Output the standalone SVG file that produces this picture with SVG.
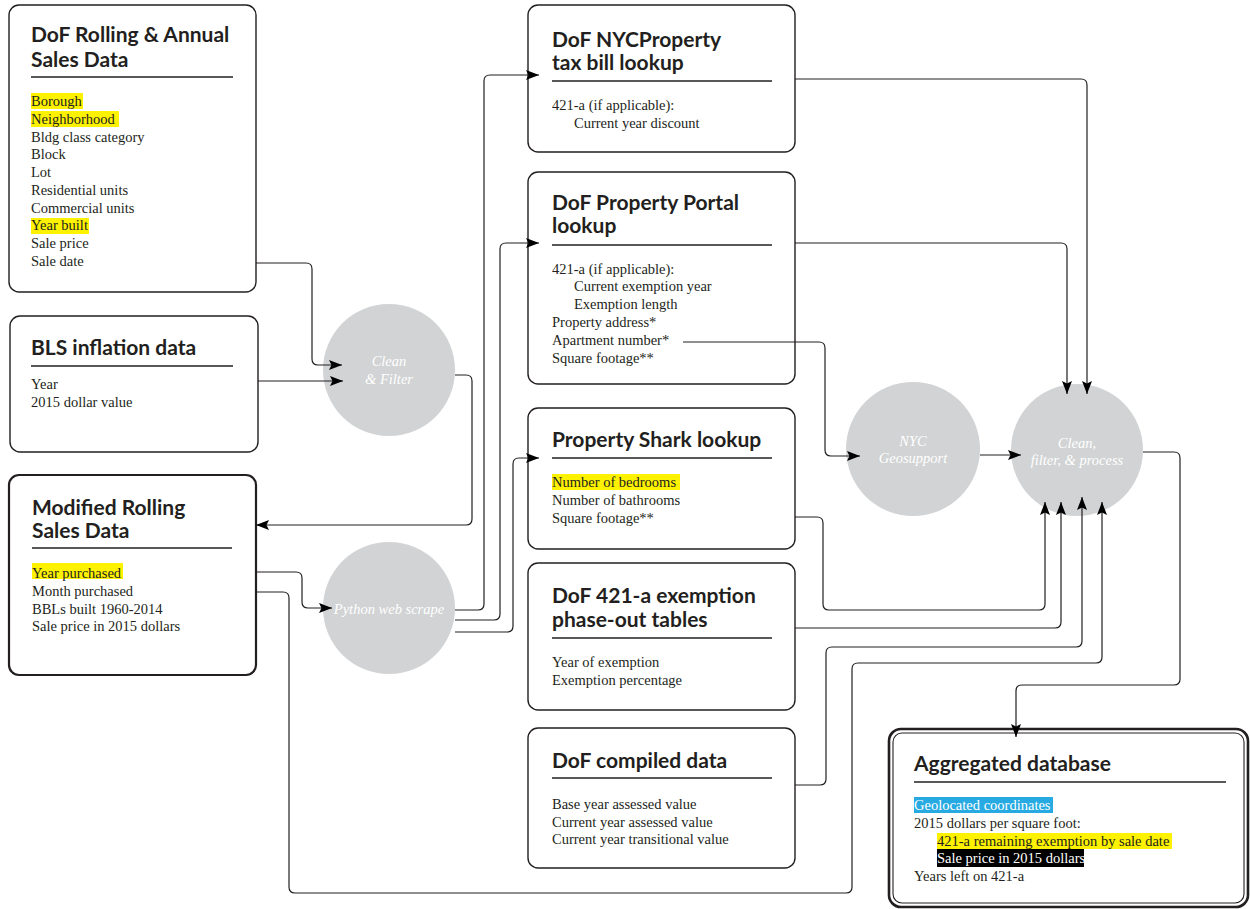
<svg xmlns="http://www.w3.org/2000/svg" width="1250" height="909" viewBox="0 0 1250 909">
<defs>
<style>
.box{fill:#fff;stroke:#231F20;stroke-width:1.4}
.title{font-family:Lato,"Liberation Sans",sans-serif;font-weight:700;font-size:21px;fill:#231F20}
.body{font-family:"Liberation Serif",serif;font-size:14.5px;fill:#231F20}
.rule{stroke:#231F20;stroke-width:1.5}
.circ{fill:#D1D3D4}
.ctext{font-family:"Liberation Serif",serif;font-style:italic;font-size:14.5px;fill:#fff;text-anchor:middle}
.hl{fill:#FFF200}
.conn path{fill:none;stroke:#231F20;stroke-width:1.2}
.conn .a{marker-end:url(#arr)}
</style>
<marker id="arr" markerUnits="userSpaceOnUse" markerWidth="13" markerHeight="10" refX="13" refY="5" orient="auto">
<path d="M0,0 L13,5 L0,10 L2.5,5 z" fill="#000"/>
</marker>
</defs>
<rect width="1250" height="909" fill="#fff"/>

<g id="node-dof-rolling">
<rect class="box" x="9" y="5" width="247" height="287" rx="10"/>
<text class="title" x="31" y="42">DoF Rolling &amp; Annual</text>
<text class="title" x="31" y="67">Sales Data</text>
<line class="rule" x1="31" y1="77" x2="233" y2="77"/>
<rect class="hl" x="31" y="93" width="52" height="16"/>
<rect class="hl" x="31" y="111" width="88" height="16"/>
<rect class="hl" x="31" y="218" width="58" height="16"/>
<text class="body" x="31" y="106">Borough</text>
<text class="body" x="31" y="124">Neighborhood</text>
<text class="body" x="31" y="141.5">Bldg class category</text>
<text class="body" x="31" y="159">Block</text>
<text class="body" x="31" y="177">Lot</text>
<text class="body" x="31" y="195">Residential units</text>
<text class="body" x="31" y="212.5">Commercial units</text>
<text class="body" x="31" y="230">Year built</text>
<text class="body" x="31" y="248">Sale price</text>
<text class="body" x="31" y="266">Sale date</text>
</g>

<g id="node-bls">
<rect class="box" x="10" y="316" width="248" height="136" rx="10"/>
<text class="title" x="31" y="355">BLS inflation data</text>
<line class="rule" x1="31" y1="366" x2="233" y2="366"/>
<text class="body" x="31" y="389">Year</text>
<text class="body" x="31" y="407">2015 dollar value</text>
</g>

<g id="node-modified">
<rect class="box" x="9" y="475" width="247" height="200" rx="10" style="stroke-width:2.2"/>
<text class="title" x="32" y="515">Modified Rolling</text>
<text class="title" x="32" y="538">Sales Data</text>
<line class="rule" x1="32" y1="548" x2="232" y2="548"/>
<rect class="hl" x="32" y="563" width="91" height="16"/>
<text class="body" x="32" y="578">Year purchased</text>
<text class="body" x="32" y="596">Month purchased</text>
<text class="body" x="32" y="613.5">BBLs built 1960-2014</text>
<text class="body" x="32" y="631">Sale price in 2015 dollars</text>
</g>

<g id="node-clean-filter">
<circle class="circ" cx="389" cy="370" r="66"/>
<text class="ctext" x="389" y="366">Clean</text>
<text class="ctext" x="389" y="384">&amp; Filter</text>
</g>

<g id="node-python">
<circle class="circ" cx="389" cy="608" r="66"/>
<text class="ctext" x="389" y="614">Python web scrape</text>
</g>

<g id="node-nycproperty">
<rect class="box" x="528" y="5" width="267" height="147" rx="10"/>
<text class="title" x="552" y="47">DoF NYCProperty</text>
<text class="title" x="552" y="70">tax bill lookup</text>
<line class="rule" x1="552" y1="81" x2="772" y2="81"/>
<text class="body" x="552" y="110">421-a (if applicable):</text>
<text class="body" x="574" y="128">Current year discount</text>
</g>

<g id="node-portal">
<rect class="box" x="528" y="172" width="267" height="212" rx="10"/>
<text class="title" x="552" y="210">DoF Property Portal</text>
<text class="title" x="552" y="233">lookup</text>
<line class="rule" x1="552" y1="245" x2="772" y2="245"/>
<text class="body" x="552" y="274">421-a (if applicable):</text>
<text class="body" x="574" y="291">Current exemption year</text>
<text class="body" x="574" y="309">Exemption length</text>
<text class="body" x="552" y="327">Property address*</text>
<text class="body" x="552" y="345">Apartment number*</text>
<text class="body" x="552" y="363">Square footage**</text>
</g>

<g id="node-shark">
<rect class="box" x="528" y="408" width="267" height="141" rx="10"/>
<text class="title" x="552" y="447">Property Shark lookup</text>
<line class="rule" x1="552" y1="458" x2="772" y2="458"/>
<rect class="hl" x="552" y="474" width="128" height="16"/>
<text class="body" x="552" y="487">Number of bedrooms</text>
<text class="body" x="552" y="505">Number of bathrooms</text>
<text class="body" x="552" y="523">Square footage**</text>
</g>

<g id="node-exemption">
<rect class="box" x="528" y="563" width="267" height="147" rx="10"/>
<text class="title" x="552" y="603">DoF 421-a exemption</text>
<text class="title" x="552" y="627">phase-out tables</text>
<line class="rule" x1="552" y1="638" x2="772" y2="638"/>
<text class="body" x="552" y="667">Year of exemption</text>
<text class="body" x="552" y="685">Exemption percentage</text>
</g>

<g id="node-compiled">
<rect class="box" x="528" y="728" width="267" height="140" rx="10"/>
<text class="title" x="552" y="768">DoF compiled data</text>
<line class="rule" x1="552" y1="778" x2="772" y2="778"/>
<text class="body" x="552" y="809">Base year assessed value</text>
<text class="body" x="552" y="826.5">Current year assessed value</text>
<text class="body" x="552" y="844">Current year transitional value</text>
</g>

<g id="node-geosupport">
<circle class="circ" cx="913" cy="449" r="67"/>
<text class="ctext" x="913" y="446">NYC</text>
<text class="ctext" x="913" y="463">Geosupport</text>
</g>

<g id="node-clean-process">
<circle class="circ" cx="1077" cy="450" r="66"/>
<text class="ctext" x="1077" y="448">Clean,</text>
<text class="ctext" x="1077" y="465">filter, &amp; process</text>
</g>

<g id="node-aggregated">
<rect x="889" y="729" width="359" height="178" rx="12" fill="#fff" stroke="#231F20" stroke-width="2.6"/>
<rect x="893" y="733" width="351" height="170" rx="9" fill="none" stroke="#231F20" stroke-width="1.1"/>
<text class="title" x="914" y="771">Aggregated database</text>
<line class="rule" x1="914" y1="782" x2="1226" y2="782"/>
<rect x="914" y="797" width="139" height="16" fill="#27AAE1"/>
<rect class="hl" x="937" y="833" width="235" height="16"/>
<rect x="937" y="849" width="147" height="18" fill="#000"/>
<text class="body" x="914" y="810" style="fill:#fff">Geolocated coordinates</text>
<text class="body" x="914" y="828">2015 dollars per square foot:</text>
<text class="body" x="937" y="846">421-a remaining exemption by sale date</text>
<text class="body" x="937" y="863" style="fill:#fff">Sale price in 2015 dollars</text>
<text class="body" x="914" y="881">Years left on 421-a</text>
</g>

<g id="connectors" class="conn">
<path class="a" d="M256,263 H306 Q312,263 312,269 V359 Q312,365 318,365 H342"/>
<path class="a" d="M258,381 H343"/>
<path class="a" d="M455,375 H466 Q472,375 472,381 V519 Q472,525 466,525 H256"/>
<path class="a" d="M256,572 H296 Q302,572 302,578 V602 Q302,608 308,608 H332"/>
<path class="a" d="M256,592 H283 Q289,592 289,598 V887 Q289,893 295,893 H846 Q852,893 852,887 V669 Q852,663 858,663 H1096 Q1102,663 1102,657 V502"/>
<path class="a" d="M455,610 H478 Q484,610 484,604 V81 Q484,75 490,75 H539"/>
<path class="a" d="M455,620 H494 Q500,620 500,614 V249 Q500,243 506,243 H539"/>
<path class="a" d="M455,632 H507 Q513,632 513,626 V464 Q513,458 519,458 H539"/>
<path class="a" d="M795,79 H1081 Q1087,79 1087,85 V394"/>
<path class="a" d="M795,243 H1061 Q1067,243 1067,249 V394"/>
<path class="a" d="M683,342 H819 Q825,342 825,348 V450 Q825,456 831,456 H860"/>
<path class="a" d="M980,455 H1021"/>
<path class="a" d="M795,517 H817 Q823,517 823,523 V604 Q823,610 829,610 H1039 Q1045,610 1045,604 V502"/>
<path class="a" d="M795,628 H1055 Q1061,628 1061,622 V502"/>
<path class="a" d="M795,785 H820 Q826,785 826,779 V653 Q826,647 832,647 H1076 Q1082,647 1082,641 V497"/>
<path class="a" d="M1143,452 H1174 Q1180,452 1180,458 V679 Q1180,685 1174,685 H1022 Q1016,685 1016,691 V737"/>
</g>
</svg>
